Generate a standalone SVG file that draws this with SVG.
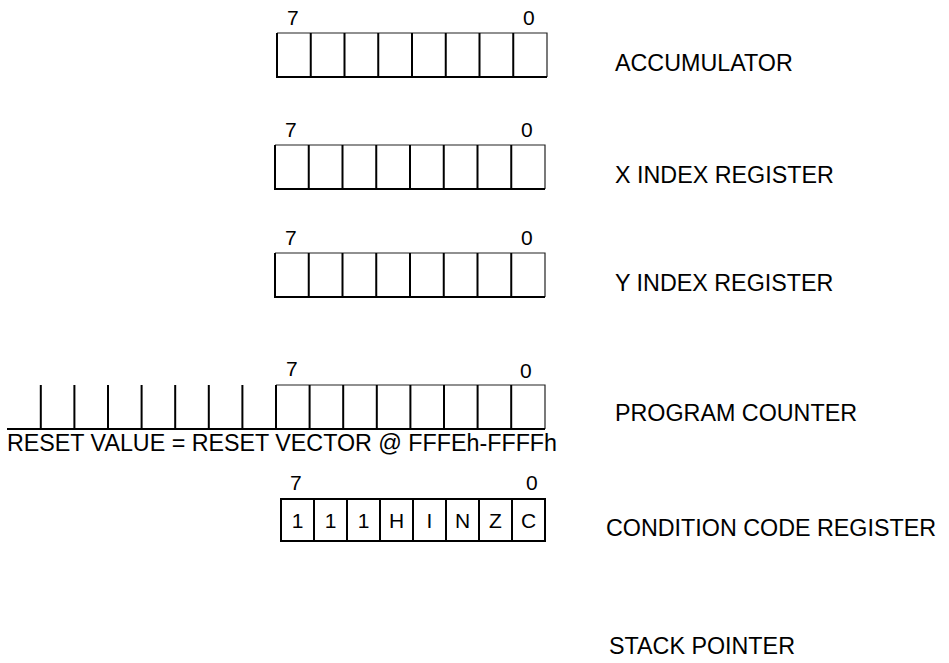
<svg xmlns="http://www.w3.org/2000/svg" width="949" height="663" viewBox="0 0 949 663">
  <style>
    text { font-family: "Liberation Sans", Arial, sans-serif; fill: #000; }
    .lbl { font-size: 23.3px; }
    .bit { font-size: 21px; }
    .cell { font-size: 21px; text-anchor: middle; }
    .thick { stroke: #000; stroke-width: 2; fill: none; }
    .thin { stroke: #222; stroke-width: 1.2; fill: none; }
  </style>
  <rect width="949" height="663" fill="#fff"/>

  <!-- Accumulator -->
  <g id="accumulator">
    <text class="bit" x="287" y="25">7</text>
    <text class="bit" x="523" y="25">0</text>
    <path class="thin" d="M277,33 H547 V77"/>
    <path class="thick" d="M277,33 V77 H547 M310.75,33 V77 M344.5,33 V77 M378.25,33 V77 M412,33 V77 M445.75,33 V77 M479.5,33 V77 M513.25,33 V77"/>
    <text class="lbl" x="615" y="71">ACCUMULATOR</text>
  </g>

  <!-- X index register -->
  <g id="x-index">
    <text class="bit" x="285" y="137">7</text>
    <text class="bit" x="521" y="137">0</text>
    <path class="thin" d="M275,145 H545 V189"/>
    <path class="thick" d="M275,145 V189 H545 M308.75,145 V189 M342.5,145 V189 M376.25,145 V189 M410,145 V189 M443.75,145 V189 M477.5,145 V189 M511.25,145 V189"/>
    <text class="lbl" x="615" y="183">X INDEX REGISTER</text>
  </g>

  <!-- Y index register -->
  <g id="y-index">
    <text class="bit" x="285" y="245">7</text>
    <text class="bit" x="521" y="245">0</text>
    <path class="thin" d="M275,253 H545 V297"/>
    <path class="thick" d="M275,253 V297 H545 M308.75,253 V297 M342.5,253 V297 M376.25,253 V297 M410,253 V297 M443.75,253 V297 M477.5,253 V297 M511.25,253 V297"/>
    <text class="lbl" x="615" y="291">Y INDEX REGISTER</text>
  </g>

  <!-- Program counter -->
  <g id="program-counter">
    <text class="bit" x="286" y="376">7</text>
    <text class="bit" x="520" y="378">0</text>
    <path class="thin" d="M276,385 H545 V429"/>
    <path class="thick" d="M7,429 H545 M276,385 V429 M309.6,385 V429 M343.2,385 V429 M376.8,385 V429 M410.4,385 V429 M444,385 V429 M477.6,385 V429 M511.2,385 V429 M242.4,385 V429 M208.8,385 V429 M175.2,385 V429 M141.6,385 V429 M108,385 V429 M74.4,385 V429 M40.8,385 V429"/>
    <text class="lbl" x="7" y="451" textLength="550" lengthAdjust="spacingAndGlyphs">RESET VALUE = RESET VECTOR @ FFFEh-FFFFh</text>
    <text class="lbl" x="615" y="421">PROGRAM COUNTER</text>
  </g>

  <!-- Condition code register -->
  <g id="condition-code">
    <text class="bit" x="290" y="490">7</text>
    <text class="bit" x="526" y="490">0</text>
    <path class="thick" d="M281,499 H545 V541 H281 Z M314,499 V541 M347,499 V541 M380,499 V541 M413,499 V541 M446,499 V541 M479,499 V541 M512,499 V541"/>
    <text class="cell" x="297.5" y="528">1</text>
    <text class="cell" x="330.5" y="528">1</text>
    <text class="cell" x="363.5" y="528">1</text>
    <text class="cell" x="396.5" y="528">H</text>
    <text class="cell" x="429.5" y="528">I</text>
    <text class="cell" x="462.5" y="528">N</text>
    <text class="cell" x="495.5" y="528">Z</text>
    <text class="cell" x="528.5" y="528">C</text>
    <text class="lbl" x="606" y="536">CONDITION CODE REGISTER</text>
  </g>

  <!-- Stack pointer -->
  <g id="stack-pointer">
    <text class="lbl" x="609" y="654">STACK POINTER</text>
  </g>
</svg>
